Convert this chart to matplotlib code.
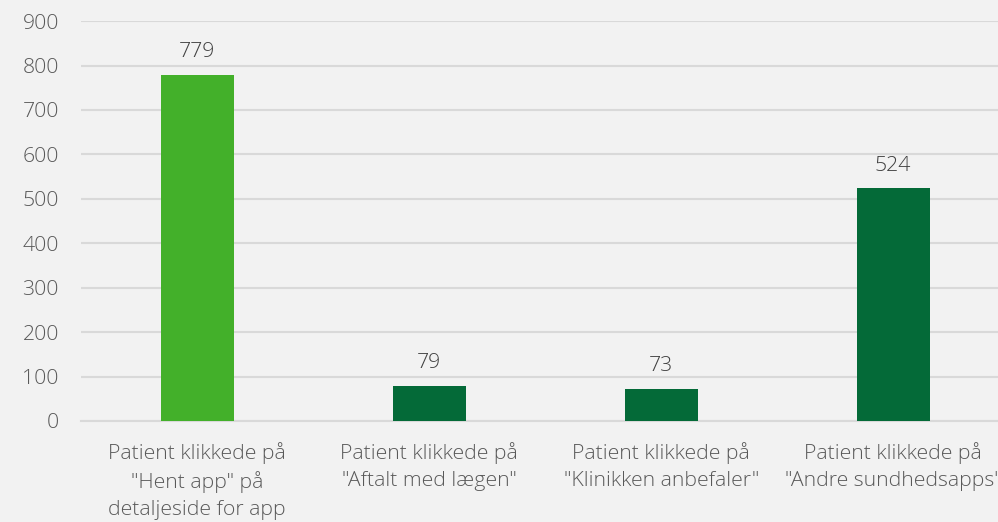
import matplotlib.pyplot as plt
import numpy as np

plt.rcParams['font.family'] = ['Open Sans', 'DejaVu Sans']

categories = [
    'Patient klikkede på\n"Hent app" på\ndetaljeside for app',
    'Patient klikkede på\n"Aftalt med lægen"',
    'Patient klikkede på\n"Klinikken anbefaler"',
    'Patient klikkede på\n"Andre sundhedsapps"',
]
clicks = [779, 79, 73, 524]
bar_colors = ['#43b02a', '#046a38', '#046a38', '#046a38']
yticks = list(range(0, 1000, 100))

bg = '#f2f2f2'
fs = 15.3
fig = plt.figure(figsize=(9.98, 5.22), dpi=100, facecolor=bg)
ax = fig.add_axes([0.0812, 0.1935, 0.930, 0.766])
ax.set_facecolor(bg)

x = np.arange(len(categories))
bars = ax.bar(x, clicks, width=0.315, color=bar_colors, zorder=3)

# value labels above each bar
for rect, v in zip(bars, clicks):
    ax.annotate(str(v), (rect.get_x() + rect.get_width() / 2, v),
                xytext=(0, 9), textcoords='offset points',
                ha='center', va='bottom', fontsize=fs, color='#404040',
                fontweight='light')

ax.set_xlim(-0.5, 3.5)
ax.set_ylim(0, 900)
ax.set_yticks(yticks)
ax.set_xticks(x)
ax.set_xticklabels(categories, fontsize=fs, color='#595959', linespacing=1.45,
                   fontweight='light')
for t in ax.get_yticklabels():
    t.set_fontweight('light')
ax.tick_params(axis='y', length=0, pad=16, labelsize=fs, labelcolor='#595959')
ax.tick_params(axis='x', length=0, pad=15)

ax.grid(axis='y', color='#d9d9d9', linewidth=1.5, zorder=0)
for s in ['top', 'right', 'left']:
    ax.spines[s].set_visible(False)
ax.spines['bottom'].set_color('#d9d9d9')
ax.spines['bottom'].set_linewidth(1.5)

plt.savefig('out.png', dpi=100, facecolor=bg)
